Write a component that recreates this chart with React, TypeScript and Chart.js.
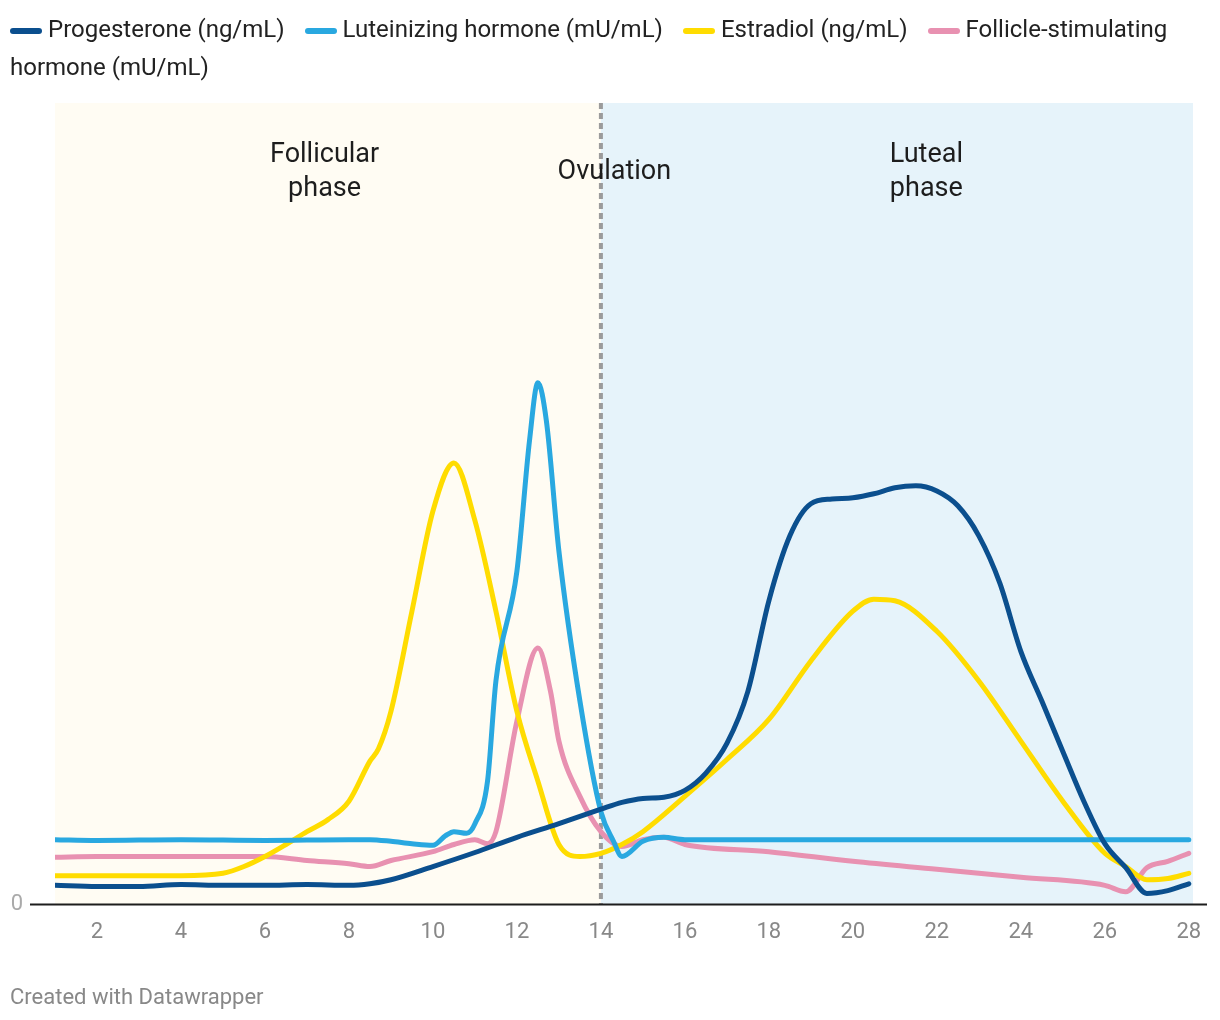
import React, { useEffect, useRef } from "react";
import { Chart, registerables } from "chart.js";

Chart.register(...registerables);

const progDays = [1,2,3,4,5,6,7,8,8.5,9,10,11,12,13,14,14.5,15,15.5,16,16.5,17,17.5,18,18.5,19,19.5,20,20.5,21,21.5,22,22.5,23,23.5,24,24.5,25,25.5,26,26.5,27,27.5,28];
const progValues = [2.4,2.25,2.25,2.5,2.4,2.4,2.5,2.4,2.6,3.1,4.75,6.5,8.4,10.1,11.9,12.75,13.25,13.4,14.25,16.4,20.1,26.6,37.9,46,50,50.6,50.75,51.25,52,52.25,51.6,49.75,46,40.1,31.6,25.4,19.1,12.9,7.6,4.6,1.4,1.75,2.6];

const lhDays = [1,2,4,6,8,8.5,9,9.5,10,10.3,10.5,10.8,11,11.3,11.5,12,12.3,12.5,12.7,13,13.5,14,14.3,14.5,15,15.5,16,18,20,22,24,26,28];
const lhValues = [8.1,8,8.1,8,8.1,8.1,7.9,7.6,7.4,8.6,9.1,8.9,10.1,15.4,27.9,41.6,57.9,65.1,60.4,44.1,25.4,11.6,7.9,6,7.9,8.4,8.1,8.1,8.1,8.1,8.1,8.1,8.1];

const e2Days = [1,2,3,4,5,5.5,6,6.5,7,7.5,8,8.5,8.7,9,9.5,10,10.5,11,11.5,12,12.5,13,13.5,14,14.5,15,16,17,18,19,20,20.5,21,22,23,24,25,26,26.5,27,27.5,28];
const e2Values = [3.6,3.6,3.6,3.6,3.9,4.75,6,7.5,9.1,10.6,12.9,17.9,19.4,24.1,36.6,49.1,55.1,47.9,36.6,24.1,15.4,7.5,6,6.4,7.5,9.1,13.5,18.1,23.1,30.4,36.6,38.1,37.9,34.1,27.9,20.4,12.9,6.4,4.75,3.1,3.25,3.9];

const fshDays = [1,2,4,6,7,8,8.5,9,10,10.5,11,11.3,11.5,12,12.5,12.8,13,13.5,14,14.5,15,15.5,16,18,20,22,24,26,26.5,27,27.5,28];
const fshValues = [5.9,6,6,6,5.5,5.1,4.75,5.5,6.6,7.5,8.1,7.6,9.1,22.9,32,26.6,20.4,13.5,9.1,7.25,8.1,8.4,7.5,6.6,5.4,4.4,3.4,2.4,1.6,4.6,5.4,6.4];

const seriesNames = [
  "Progesterone (ng/mL)",
  "Luteinizing hormone (mU/mL)",
  "Estradiol (ng/mL)",
  "Follicle-stimulating hormone (mU/mL)",
];
const seriesColors = ["#0b4f8e", "#29a8e0", "#ffdc00", "#e891b1"];

const xTicks = [2,4,6,8,10,12,14,16,18,20,22,24,26,28];
const ovulationDay = 14;
const phaseLabels = [
  { x: 7.42, lines: ["Follicular", "phase"] },
  { x: 14.32, lines: ["Ovulation"] },
  { x: 21.75, lines: ["Luteal", "phase"] },
];

const toPoints = (xs: number[], ys: number[]) => xs.map((x, i) => ({ x, y: ys[i] }));

const bgPlugin = {
  id: "bgPlugin",
  beforeDatasetsDraw(chart: any) {
    const { ctx, chartArea, scales } = chart;
    const xs = scales.x;
    const xo = xs.getPixelForValue(ovulationDay);
    ctx.save();
    ctx.fillStyle = "#fffcf3";
    ctx.fillRect(chartArea.left, chartArea.top, xo - chartArea.left, chartArea.bottom - chartArea.top);
    ctx.fillStyle = "#e6f3fa";
    ctx.fillRect(xo, chartArea.top, chartArea.right - xo, chartArea.bottom - chartArea.top);
    ctx.strokeStyle = "#9b9b9b";
    ctx.lineWidth = 4;
    ctx.setLineDash([6, 4]);
    ctx.beginPath();
    ctx.moveTo(xo, chartArea.top);
    ctx.lineTo(xo, chartArea.bottom);
    ctx.stroke();
    ctx.setLineDash([]);
    ctx.fillStyle = "#1d1d1d";
    ctx.font = "27px Roboto";
    ctx.textAlign = "center";
    ctx.textBaseline = "middle";
    phaseLabels.forEach((p) => {
      const px = xs.getPixelForValue(p.x);
      if (p.lines.length === 1) {
        ctx.fillText(p.lines[0], px, chartArea.top + 69);
      } else {
        p.lines.forEach((l, i) => ctx.fillText(l, px, chartArea.top + 52 + i * 34));
      }
    });
    ctx.restore();
  },
  afterDatasetsDraw(chart: any) {
    const { ctx, chartArea, scales } = chart;
    const y0 = scales.y.getPixelForValue(0);
    ctx.save();
    ctx.strokeStyle = "#1d1d1d";
    ctx.lineWidth = 2;
    ctx.beginPath();
    ctx.moveTo(22, y0);
    ctx.lineTo(chartArea.right + 14, y0);
    ctx.stroke();
    ctx.restore();
  },
};

export default function App() {
  const ref = useRef<HTMLCanvasElement>(null);
  useEffect(() => {
    if (!ref.current) return;
    const all = [
      toPoints(progDays, progValues),
      toPoints(lhDays, lhValues),
      toPoints(e2Days, e2Values),
      toPoints(fshDays, fshValues),
    ];
    const chart = new Chart(ref.current, {
      type: "line",
      data: {
        datasets: all.map((d, i) => ({
          label: seriesNames[i],
          data: d,
          borderColor: seriesColors[i],
          backgroundColor: seriesColors[i],
          borderWidth: 5,
          pointRadius: 0,
          cubicInterpolationMode: "monotone" as const,
          borderCapStyle: "round" as const,
          borderJoinStyle: "round" as const,
          fill: false,
        })),
      },
      options: {
        animation: false,
        responsive: false,
        events: [],
        layout: { padding: { top: 95, right: 19, bottom: 51, left: 0 } },
        plugins: { legend: { display: false }, tooltip: { enabled: false } },
        scales: {
          x: {
            type: "linear",
            min: 1,
            max: 28.1,
            afterBuildTicks: (s: any) => {
              s.ticks = xTicks.map((v) => ({ value: v }));
            },
            afterFit: (s: any) => {
              s.paddingRight = 0;
              s.paddingLeft = 0;
            },
            grid: { display: false, drawTicks: false },
            border: { display: false },
            ticks: {
              color: "#888888",
              font: { family: "Roboto", size: 22 },
              padding: 15,
              maxRotation: 0,
              autoSkip: false,
            },
          },
          y: {
            min: 0,
            max: 100,
            afterBuildTicks: (s: any) => {
              s.ticks = [{ value: 0 }];
            },
            afterFit: (s: any) => {
              s.width = 47;
              s.paddingTop = 0;
              s.paddingBottom = 0;
            },
            grid: { display: false, drawTicks: false },
            border: { display: false },
            ticks: {
              color: "#aaaaaa",
              font: { family: "Roboto", size: 22 },
              padding: 32,
            },
          },
        },
      },
      plugins: [bgPlugin],
    });
    return () => chart.destroy();
  }, []);

  return (
    <div style={{ position: "relative", width: 1204, height: 1004, fontFamily: "Roboto" }}>
      <canvas ref={ref} width={1204} height={1004} style={{ position: "absolute", left: 0, top: 0 }} />
      <div
        style={{
          position: "absolute",
          left: 2,
          top: 2,
          width: 1200,
          fontSize: 24,
          lineHeight: "38px",
          color: "#222222",
        }}
      >
        {seriesNames.map((n, i) => (
          <span key={n} style={{ marginRight: 20 }}>
            <span
              style={{
                display: "inline-block",
                width: 32,
                height: 6,
                borderRadius: 3,
                background: seriesColors[i],
                verticalAlign: "middle",
                marginRight: 6,
              }}
            />
            {n}
          </span>
        ))}
      </div>
      <div
        style={{
          position: "absolute",
          left: 2,
          top: 975,
          fontSize: 22,
          color: "#888888",
          lineHeight: "28px",
        }}
      >
        Created with Datawrapper
      </div>
    </div>
  );
}
